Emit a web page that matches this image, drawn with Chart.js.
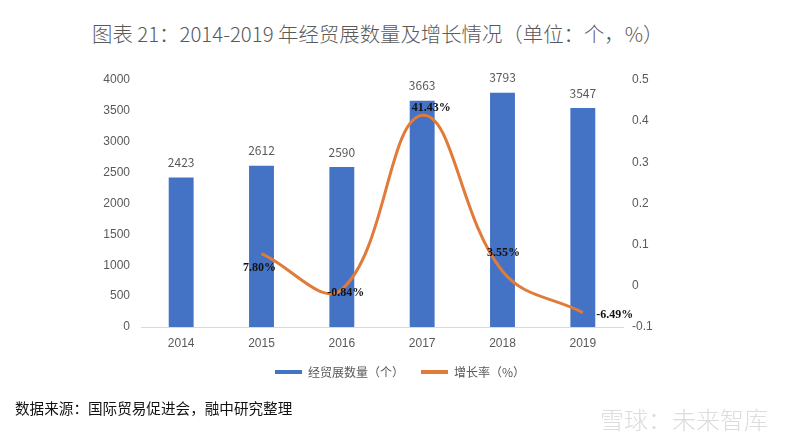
<!DOCTYPE html>
<html><head><meta charset="utf-8">
<script src="https://cdn.jsdelivr.net/npm/chart.js@4"></script>
<style>
html,body{margin:0;padding:0;background:#fff;width:800px;height:439px;overflow:hidden;font-family:"Noto Sans CJK SC","Noto Sans",sans-serif}
#c{position:absolute;left:0;top:0}
#title{position:absolute;left:92px;top:18px;font-size:20.4px;font-weight:300;color:#595959;white-space:nowrap;line-height:30px}
#src{position:absolute;left:15px;top:397px;font-size:14.6px;color:#111;white-space:nowrap;line-height:22px}
#wm{position:absolute;left:600px;top:404px;font-size:24px;font-weight:300;color:#dcdcdc;white-space:nowrap;line-height:30px}
</style></head>
<body>
<div id="title">图表 21：2014-2019 年经贸展数量及增长情况（单位：个，%）</div>
<canvas id="c" width="800" height="439"></canvas>
<div id="src">数据来源：国际贸易促进会，融中研究整理</div>
<div id="wm">雪球：未来智库</div>
<script>
const categories = ["2014","2015","2016","2017","2018","2019"];
const exhibitionCounts = [2423, 2612, 2590, 3663, 3793, 3547];
const growthRates = [null, 0.0780, -0.0084, 0.4143, 0.0355, -0.0649];
const growthLabels = [null, "7.80%", "-0.84%", "41.43%", "3.55%", "-6.49%"];
const seriesNames = ["经贸展数量（个）", "增长率（%）"];

const BLUE = "#4472C4", ORANGE = "#E07B39", GRAY = "#595959";

const labelPlugin = {
  id: "valueLabels",
  afterDatasetsDraw(chart) {
    const ctx = chart.ctx;
    ctx.save();
    const barMeta = chart.getDatasetMeta(0);
    ctx.font = '12px "Noto Sans CJK SC", sans-serif';
    ctx.fillStyle = GRAY;
    ctx.textAlign = "center";
    ctx.textBaseline = "middle";
    barMeta.data.forEach((el, i) => {
      ctx.fillText(String(exhibitionCounts[i]), el.x, el.y - 15);
    });
    const offs = [null, [-2, 14], [4, 4], [9, -7], [1, -18], [32, 2]];
    const lineMeta = chart.getDatasetMeta(1);
    ctx.font = 'bold 12px "Liberation Serif", "Times New Roman", serif';
    ctx.fillStyle = "#111";
    lineMeta.data.forEach((el, i) => {
      if (growthRates[i] === null) return;
      ctx.fillText(growthLabels[i], el.x + offs[i][0], el.y + offs[i][1]);
    });
    ctx.restore();
  }
};

new Chart(document.getElementById("c"), {
  type: "bar",
  data: {
    labels: categories,
    datasets: [
      {
        type: "bar",
        label: seriesNames[0],
        data: exhibitionCounts,
        backgroundColor: BLUE,
        borderWidth: 0,
        barPercentage: 0.31,
        categoryPercentage: 1,
        yAxisID: "y",
        order: 2
      },
      {
        type: "line",
        label: seriesNames[1],
        data: growthRates,
        borderColor: ORANGE,
        backgroundColor: ORANGE,
        borderWidth: 3,
        pointRadius: 0,
        tension: 0.4,
        fill: false,
        yAxisID: "y1",
        order: 1
      }
    ]
  },
  options: {
    responsive: false,
    devicePixelRatio: 1,
    animation: false,
    layout: { padding: { top: 80, left: 0, right: 0, bottom: 51 } },
    plugins: {
      tooltip: { enabled: false },
      legend: {
        position: "bottom",
        labels: {
          boxWidth: 27,
          boxHeight: 4,
          padding: 17,
          color: GRAY,
          font: { size: 12, family: '"Noto Sans CJK SC", sans-serif' },
          generateLabels(chart) {
            return chart.data.datasets.map((ds, i) => ({
              text: ds.label,
              fillStyle: i === 0 ? BLUE : ORANGE,
              strokeStyle: i === 0 ? BLUE : ORANGE,
              lineWidth: 0,
              fontColor: GRAY,
              hidden: false,
              datasetIndex: i
            }));
          }
        }
      }
    },
    scales: {
      x: {
        grid: { display: false, drawTicks: false },
        border: { display: true, color: "#d9d9d9", width: 1 },
        ticks: { color: GRAY, font: { size: 12 }, padding: 9 },
        afterFit(s) { s.height = 22; }
      },
      y: {
        position: "left",
        min: 0, max: 4000,
        ticks: { stepSize: 500, color: GRAY, font: { size: 12 }, padding: 11,
          callback: v => String(v) },
        grid: { display: false, drawTicks: false },
        border: { display: false },
        afterFit(s) { s.width = 141; }
      },
      y1: {
        position: "right",
        min: -0.1, max: 0.5,
        ticks: {
          stepSize: 0.1, color: GRAY, font: { size: 12 }, padding: 9,
          callback: v => String(Math.round(v * 10) / 10)
        },
        grid: { display: false, drawTicks: false },
        border: { display: false },
        afterFit(s) { s.width = 177; }
      }
    }
  },
  plugins: [labelPlugin]
});
</script>
</body></html>
